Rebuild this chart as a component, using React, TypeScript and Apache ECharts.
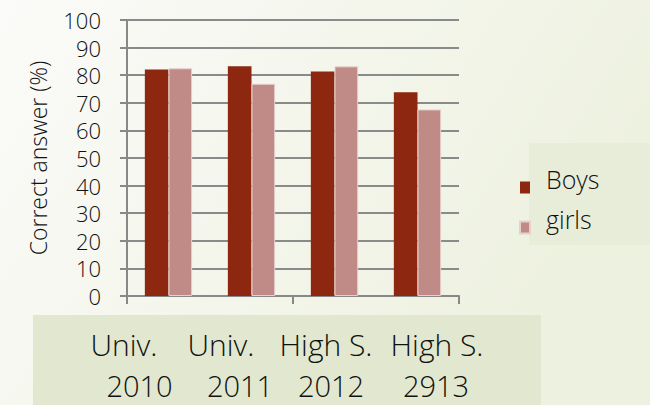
import React, { useEffect, useRef } from "react";
import * as echarts from "echarts";

const categories = ["Univ. 2010", "Univ. 2011", "High S. 2012", "High S. 2913"];
const labelLine1 = ["Univ.", "Univ.", "High S.", "High S."];
const labelLine2 = ["2010", "2011", "2012", "2913"];
const boys = [82.1, 83.2, 81.3, 73.8];
const girls = [82.5, 76.9, 83.2, 67.6];
const yTicks = { min: 0, max: 100, interval: 10 };

const line1X = [124, 221, 326, 437];
const line2X = [139.5, 240, 331, 436];

const FONT = "'Open Sans', Lato, sans-serif";
const W = 300;

export default function App() {
  const ref = useRef<HTMLDivElement>(null);
  useEffect(() => {
    if (!ref.current) return;
    const chart = echarts.init(ref.current, null, { renderer: "svg" });
    const labelTexts: any[] = [];
    labelLine1.forEach((t, i) =>
      labelTexts.push({
        type: "text",
        x: line1X[i],
        y: 344,
        z: 10,
        style: { text: t, fontSize: 30, lineHeight: 30, fontWeight: W, fontFamily: FONT, fill: "#111", textAlign: "center", textVerticalAlign: "middle" },
      })
    );
    labelLine2.forEach((t, i) =>
      labelTexts.push({
        type: "text",
        x: line2X[i],
        y: 385,
        z: 10,
        style: { text: t, fontSize: 29, lineHeight: 29, fontWeight: W, fontFamily: FONT, fill: "#111", textAlign: "center", textVerticalAlign: "middle" },
      })
    );
    chart.setOption({
      animation: false,
      backgroundColor: {
        type: "linear",
        x: 0,
        y: 0,
        x2: 1,
        y2: 0.4,
        colorStops: [
          { offset: 0, color: "#fbfbf9" },
          { offset: 1, color: "#edf1df" },
        ],
      },
      textStyle: { fontFamily: FONT },
      graphic: [
        { type: "rect", shape: { x: 33, y: 315, width: 508, height: 90 }, style: { fill: "#e2e8d0" }, z: 0 },
        { type: "rect", shape: { x: 529, y: 143, width: 121, height: 102 }, style: { fill: "#e8edda" }, z: 0 },
        ...labelTexts,
      ],
      grid: { left: 127, right: 191, top: 20, bottom: 109, containLabel: false },
      legend: {
        orient: "vertical",
        left: 519,
        top: 166,
        padding: 0,
        itemWidth: 10,
        itemHeight: 12,
        itemGap: -3,
        icon: "rect",
        formatter: "{a|{name}}",
        textStyle: {
          fontSize: 25,
          fontWeight: W,
          fontFamily: FONT,
          color: "#111",
          rich: {
            a: { fontSize: 25, lineHeight: 26, fontWeight: W, fontFamily: FONT, color: "#111", padding: [0, 0, 18, 11] },
          },
        },
        data: ["Boys", "girls"],
      },
      xAxis: {
        type: "category",
        data: categories,
        axisLine: { lineStyle: { color: "#888", width: 2 } },
        axisTick: { show: true, length: 8, lineStyle: { color: "#888", width: 2 } },
        axisLabel: { show: false },
      },
      yAxis: {
        type: "value",
        min: yTicks.min,
        max: yTicks.max,
        interval: yTicks.interval,
        name: "Correct answer (%)",
        nameLocation: "middle",
        nameRotate: 90,
        nameGap: 78,
        nameTextStyle: { fontSize: 23, fontWeight: W, fontFamily: FONT, color: "#111" },
        axisLine: { show: true, lineStyle: { color: "#888", width: 2 } },
        axisTick: { show: true, length: 7, lineStyle: { color: "#888", width: 2 } },
        axisLabel: { fontSize: 22, fontWeight: W, fontFamily: FONT, color: "#111", margin: 26 },
        splitLine: { lineStyle: { color: "#8a8a8a", width: 2 } },
      },
      series: [
        {
          name: "Boys",
          type: "bar",
          data: boys,
          barGap: "0%",
          barCategoryGap: "43%",
          itemStyle: { color: "#8e2710" },
        },
        {
          name: "girls",
          type: "bar",
          data: girls,
          itemStyle: { color: "#c08a87", borderColor: "#e6d0ce", borderWidth: 1 },
        },
      ],
    });
    return () => chart.dispose();
  }, []);
  return <div ref={ref} style={{ position: "fixed", left: 0, top: 0, width: 650, height: 405 }} />;
}
